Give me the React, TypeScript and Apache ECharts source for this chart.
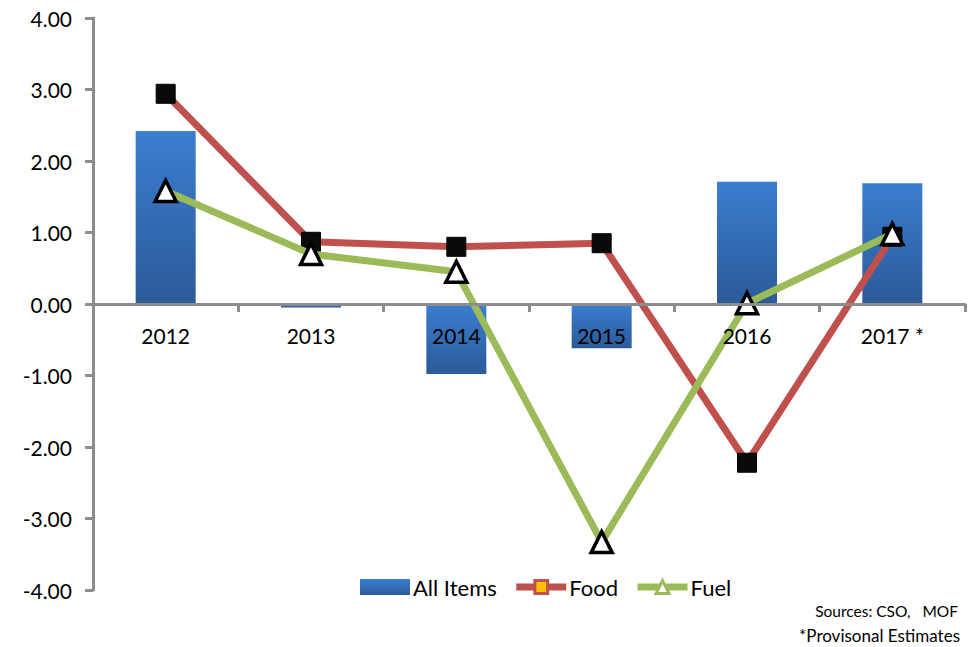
import React, { useEffect, useRef } from "react";
import * as echarts from "echarts";

const categories = ["2012", "2013", "2014", "2015", "2016", "2017 *"];
const allItems = [2.42, -0.05, -0.98, -0.62, 1.71, 1.69];
const food = [2.94, 0.87, 0.8, 0.85, -2.22, 0.94];
const fuel = [1.58, 0.7, 0.45, -3.33, 0.01, 0.98];
const yTicks = { min: -4, max: 4, interval: 1 };
const notes = ["Sources: CSO,   MOF", "*Provisonal Estimates"];

const FONT = "Lato";

export default function App() {
  const ref = useRef<HTMLDivElement>(null);
  useEffect(() => {
    if (!ref.current) return;
    const chart = echarts.init(ref.current, null, { renderer: "svg" });
    const barGrad = new echarts.graphic.LinearGradient(0, 0, 0, 1, [
      { offset: 0, color: "#3B7ED0" },
      { offset: 1, color: "#2B5A98" },
    ]);
    chart.setOption({
      animation: false,
      backgroundColor: "#ffffff",
      textStyle: { fontFamily: FONT },
      grid: { left: 93, right: 6, top: 18, bottom: 57, containLabel: false },
      legend: {
        left: 355,
        top: 571,
        itemWidth: 50,
        itemHeight: 16,
        itemGap: 16,
        textStyle: { fontSize: 22, color: "#000", fontFamily: FONT, padding: [0, 0, 0, -2] },
        data: [
          { name: "All Items", icon: "rect", itemStyle: { color: barGrad } },
          {
            name: "Food",
            itemStyle: { color: "#FFC000", borderColor: "#C0504D", borderWidth: 3 },
            lineStyle: { color: "#C0504D", width: 7 },
          },
          {
            name: "Fuel",
            itemStyle: { color: "#ffffff", borderColor: "#9BBB59", borderWidth: 3 },
            lineStyle: { color: "#9BBB59", width: 7 },
          },
        ],
      },
      xAxis: {
        type: "category",
        data: categories,
        axisLine: { onZero: true, lineStyle: { color: "#8C8C8C", width: 3 } },
        axisTick: { show: true, length: 8, lineStyle: { color: "#8C8C8C", width: 3 } },
        axisLabel: { fontSize: 21, color: "#000", margin: -265, fontFamily: FONT },
        splitLine: { show: false },
        z: 5,
      },
      yAxis: {
        type: "value",
        min: yTicks.min,
        max: yTicks.max,
        interval: yTicks.interval,
        axisLine: { show: true, lineStyle: { color: "#8C8C8C", width: 3 } },
        axisTick: { show: true, length: 8, lineStyle: { color: "#8C8C8C", width: 3 } },
        axisLabel: {
          fontSize: 21,
          color: "#000",
          margin: 21,
          fontFamily: FONT,
          formatter: (v: number) => v.toFixed(2),
        },
        splitLine: { show: false },
      },
      series: [
        {
          name: "All Items",
          type: "bar",
          data: allItems,
          barWidth: 60,
          itemStyle: { color: barGrad },
          z: 2,
        },
        {
          name: "Food",
          type: "line",
          data: food,
          symbol: "rect",
          symbolSize: 19,
          lineStyle: { color: "#C0504D", width: 7 },
          itemStyle: { color: "#0A0A0A", borderColor: "#000", borderWidth: 1 },
          z: 3,
        },
        {
          name: "Fuel",
          type: "line",
          data: fuel,
          symbol: "triangle",
          symbolSize: 21,
          lineStyle: { color: "#9BBB59", width: 7 },
          itemStyle: { color: "#ffffff", borderColor: "#000", borderWidth: 3.5 },
          z: 4,
        },
      ],
      graphic: [
        {
          type: "text",
          right: 13,
          top: 603,
          style: { text: notes[0], font: `15.5px ${FONT}`, fill: "#000", textAlign: "right" },
        },
        {
          type: "text",
          right: 11,
          top: 627,
          style: { text: notes[1], font: `17px ${FONT}`, fill: "#000", textAlign: "right" },
        },
      ],
    });
    return () => chart.dispose();
  }, []);
  return <div ref={ref} style={{ width: 971, height: 647, position: "absolute", left: 0, top: 0 }} />;
}
